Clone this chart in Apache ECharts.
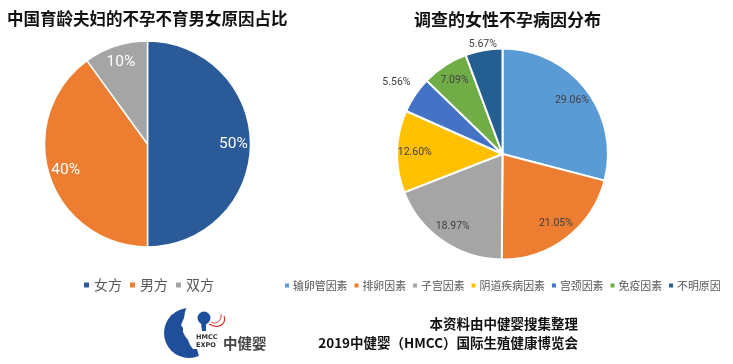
<!DOCTYPE html>
<html><head><meta charset="utf-8">
<script src="https://cdn.jsdelivr.net/npm/echarts@6/dist/echarts.min.js"></script>
<style>html,body{margin:0;padding:0;background:#fff}#c{width:733px;height:364px}</style>
</head><body><div id="c"></div>
<script>
// ---- data ----
const leftTitle = '中国育龄夫妇的不孕不育男女原因占比';
const leftNames = ['女方', '男方', '双方'];
const leftValues = [50, 40, 10];
const leftColors = ['#2A5B98', '#ED7D31', '#A5A5A5'];

const rightTitle = '调查的女性不孕病因分布';
const rightNames = ['输卵管因素', '排卵因素', '子宫因素', '阴道疾病因素', '宫颈因素', '免疫因素', '不明原因'];
const rightValues = [29.06, 21.05, 18.97, 12.60, 5.56, 7.09, 5.67];
const rightColors = ['#5B9BD5', '#ED7D31', '#A5A5A5', '#FFC000', '#4472C4', '#70AD47', '#255E91'];

const footer1 = '本资料由中健婴搜集整理';
const footer2 = '2019中健婴（HMCC）国际生殖健康博览会';

// ---- build ----
const LC = [147.5, 144], LR = 103;
const RC = [502.5, 154], RR = 105.5;
const cjk = '"Noto Sans CJK SC", "Noto Sans", sans-serif';
const num = 'Roboto, "Open Sans", sans-serif';

function mainData(names, values, colors) {
  return names.map((n, i) => ({ name: n, value: values[i], itemStyle: { color: colors[i] } }));
}
function overlayData(names, values, showIdx) {
  return names.map((n, i) => ({ name: n, value: values[i], label: { show: showIdx.includes(i) } }));
}
function overlay(center, radius, data, labelStyle) {
  return {
    type: 'pie', center, radius, startAngle: 90, silent: true, animation: false,
    avoidLabelOverlap: false, minShowLabelAngle: 0,
    itemStyle: { color: 'rgba(0,0,0,0)', borderWidth: 0 },
    label: Object.assign({ position: 'inside' }, labelStyle),
    labelLine: { show: false },
    emphasis: { disabled: true },
    data
  };
}
const leftLbl = { color: '#ffffff', fontSize: 15.5, fontFamily: num, formatter: '{c}%' };
const rightLbl = { color: '#404040', fontSize: 10.5, fontFamily: num, formatter: p => p.value.toFixed(2) + '%' };

const BLUE = '#1F4E9A';
const chart = echarts.init(document.getElementById('c'), null, { renderer: 'canvas' });
chart.setOption({
  backgroundColor: '#fff',
  animation: false,
  title: [
    { text: leftTitle, left: 7, top: 10, padding: 0,
      textStyle: { fontFamily: cjk, fontSize: 16.5, fontWeight: 'bold', color: '#111' } },
    { text: rightTitle, left: 414, top: 11, padding: 0,
      textStyle: { fontFamily: cjk, fontSize: 17, fontWeight: 'bold', color: '#111' } }
  ],
  legend: [
    { data: leftNames, left: 82, top: 278, icon: 'rect', itemWidth: 7, itemHeight: 7, itemGap: 6,
      padding: 0, selectedMode: false,
      textStyle: { fontFamily: cjk, fontSize: 14, color: '#595959', padding: [0, 0, 0, -1] } },
    { data: rightNames, left: 283, top: 280, icon: 'rect', itemWidth: 6, itemHeight: 6, itemGap: 5,
      padding: 0, selectedMode: false,
      textStyle: { fontFamily: cjk, fontSize: 10.9, color: '#595959', padding: [0, 0, 0, -2] } }
  ],
  series: [
    { type: 'pie', center: LC, radius: [0, LR], startAngle: 90, silent: true,
      itemStyle: { borderColor: '#fff', borderWidth: 1.5 },
      label: { show: false }, labelLine: { show: false },
      data: mainData(leftNames, leftValues, leftColors) },
    { type: 'pie', center: RC, radius: [0, RR], startAngle: 90, silent: true,
      itemStyle: { borderColor: '#fff', borderWidth: 2 },
      label: { show: false }, labelLine: { show: false },
      data: mainData(rightNames, rightValues, rightColors) },
    overlay(LC, [63, LR], overlayData(leftNames, leftValues, [0, 1, 2]), leftLbl),
    overlay(RC, [64, RR], overlayData(rightNames, rightValues, [0, 1, 2, 3, 5]), rightLbl),
    overlay(RC, [110, 140], overlayData(rightNames, rightValues, [4]), rightLbl),
    overlay(RC, [98, 118], overlayData(rightNames, rightValues, [6]), rightLbl)
  ],
  graphic: [
    // logo (approximate drawing)
    { type: 'circle', shape: { cx: 189, cy: 333, r: 25 }, style: { fill: BLUE } },
    { type: 'polygon', shape: { points: [[187,306],[185,312],[184,318],[181,325],[183,328],[183,332],[185,336],[188,340],[190,345],[193,349],[197,349],[200,360],[232,360],[232,304],[187,304]] },
      style: { fill: '#fff' } },
    { type: 'circle', shape: { cx: 204, cy: 318, r: 6.5 }, style: { fill: BLUE } },
    { type: 'polygon', shape: { points: [[201,323],[206,323],[206,331],[202,331]] }, style: { fill: BLUE } },
    { type: 'bezierCurve', shape: { x1: 209, y1: 324, x2: 224, y2: 316, cpx1: 222, cpy1: 331, cpx2: 226, cpy2: 321 },
      style: { stroke: '#D9302C', lineWidth: 1.1, fill: null } },
    { type: 'bezierCurve', shape: { x1: 211, y1: 322, x2: 221, y2: 314, cpx1: 218, cpy1: 326, cpx2: 222, cpy2: 318 },
      style: { stroke: '#D9302C', lineWidth: 0.9, fill: null } },
    { type: 'text', x: 196, y: 337, style: { text: 'HMCC', fontFamily: 'DejaVu Sans', fontWeight: 'bold', fontSize: 6.5, fill: '#333', textVerticalAlign: 'middle' } },
    { type: 'text', x: 196, y: 345, style: { text: 'EXPO', fontFamily: 'DejaVu Sans', fontWeight: 'bold', fontSize: 6.5, fill: '#333', textVerticalAlign: 'middle' } },
    { type: 'text', x: 223, y: 343, style: { text: '中健婴', fontFamily: cjk, fontWeight: 'bold', fontSize: 14.5, fill: '#444', textVerticalAlign: 'middle' } },
    // footer text
    { type: 'text', x: 578, y: 324, style: { text: footer1, fontFamily: cjk, fontWeight: 'bold', fontSize: 13.5, fill: '#111', textAlign: 'right', textVerticalAlign: 'middle' } },
    { type: 'text', x: 578, y: 343, style: { text: footer2, fontFamily: cjk, fontWeight: 'bold', fontSize: 13.5, fill: '#111', textAlign: 'right', textVerticalAlign: 'middle' } }
  ]
});
</script></body></html>
